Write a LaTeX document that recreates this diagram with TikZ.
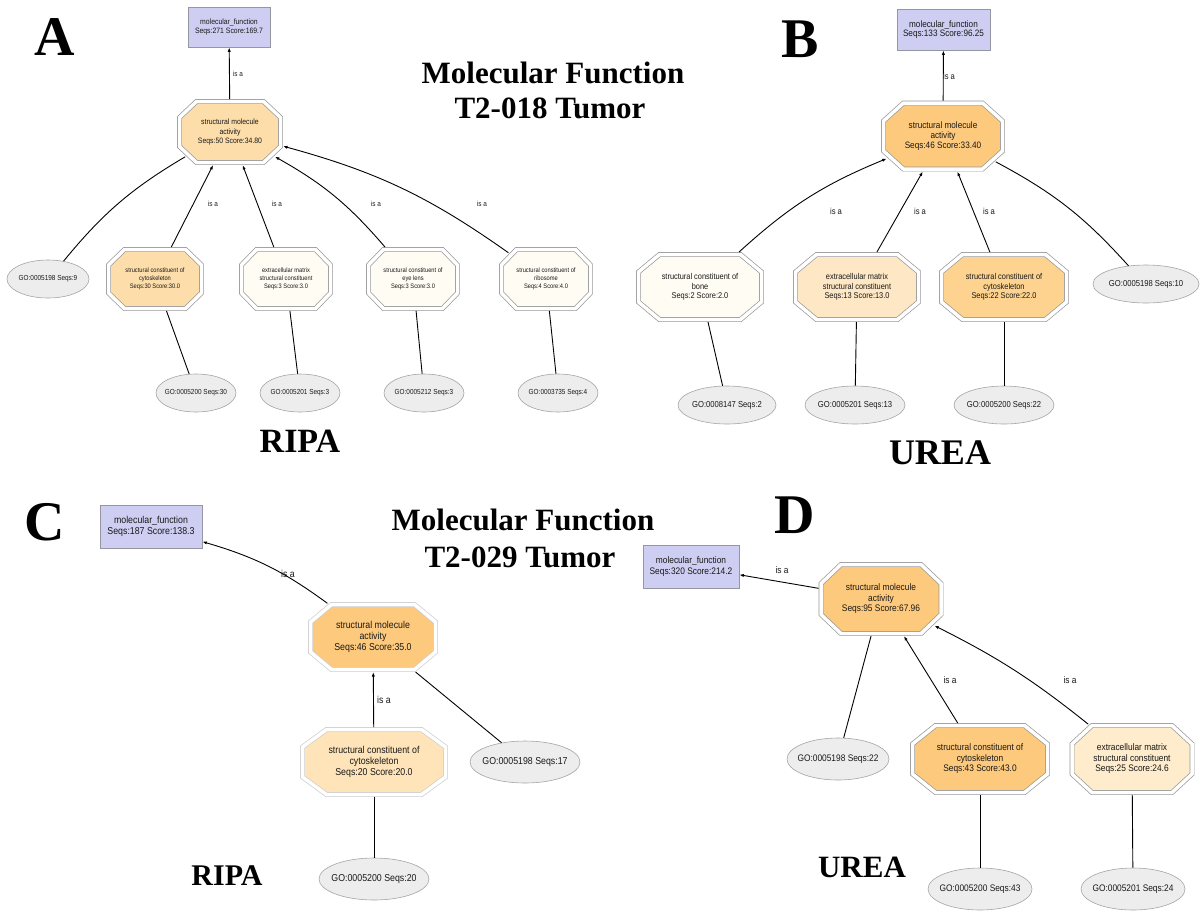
\documentclass[tikz,border=0pt]{standalone}
\usepackage{fontspec}
\setmainfont{Liberation Serif}
\newfontfamily\sansf[FakeStretch=0.88]{Liberation Sans}
\usetikzlibrary{shapes.geometric,arrows.meta}
\definecolor{boxfill}{RGB}{206,206,242}
\definecolor{boxline}{RGB}{150,150,160}
\definecolor{ellfill}{RGB}{237,237,237}
\definecolor{ellline}{RGB}{165,165,165}
\definecolor{octline}{RGB}{150,150,150}
\definecolor{octlineC}{RGB}{205,205,205}
\definecolor{oDeep}{RGB}{253,201,125}
\definecolor{oA}{RGB}{253,222,170}
\definecolor{oPale}{RGB}{254,252,243}
\definecolor{oBext}{RGB}{254,231,196}
\definecolor{oBcyto}{RGB}{253,211,143}
\definecolor{oCcyto}{RGB}{254,228,184}
\definecolor{oDext}{RGB}{254,236,204}
\definecolor{txt}{RGB}{25,25,25}
\makeatletter
\pgfkeys{/pgf/octo cx/.initial=10pt, /pgf/octo cy/.initial=10pt}
\pgfdeclareshape{octo}{%
  \inheritsavedanchors[from=rectangle]%
  \inheritanchor[from=rectangle]{center}%
  \inheritanchor[from=rectangle]{north}%
  \inheritanchor[from=rectangle]{south}%
  \inheritanchor[from=rectangle]{east}%
  \inheritanchor[from=rectangle]{west}%
  \saveddimen\octcx{\pgfmathsetlength\pgf@x{\pgfkeysvalueof{/pgf/octo cx}}}%
  \saveddimen\octcy{\pgfmathsetlength\pgf@x{\pgfkeysvalueof{/pgf/octo cy}}}%
  \backgroundpath{%
    \pgfmathsetlength\pgf@xb{\pgfkeysvalueof{/pgf/outer xsep}}%
    \pgfmathsetlength\pgf@yb{\pgfkeysvalueof{/pgf/outer ysep}}%
    \edef\oct@ox{\the\pgf@xb}\edef\oct@oy{\the\pgf@yb}%
    \southwest
    \pgf@xa=\pgf@x \advance\pgf@xa by \oct@ox\relax
    \pgf@ya=\pgf@y \advance\pgf@ya by \oct@oy\relax
    \edef\oct@l{\the\pgf@xa}\edef\oct@b{\the\pgf@ya}%
    \northeast
    \pgf@xa=\pgf@x \advance\pgf@xa by -\oct@ox\relax
    \pgf@ya=\pgf@y \advance\pgf@ya by -\oct@oy\relax
    \edef\oct@r{\the\pgf@xa}\edef\oct@t{\the\pgf@ya}%
    \pgf@xc=\oct@l\relax \advance\pgf@xc by \octcx\relax \edef\oct@lc{\the\pgf@xc}%
    \pgf@xc=\oct@r\relax \advance\pgf@xc by -\octcx\relax \edef\oct@rc{\the\pgf@xc}%
    \pgf@yc=\oct@b\relax \advance\pgf@yc by \octcy\relax \edef\oct@bc{\the\pgf@yc}%
    \pgf@yc=\oct@t\relax \advance\pgf@yc by -\octcy\relax \edef\oct@tc{\the\pgf@yc}%
    \pgfpathmoveto{\pgfqpoint{\oct@lc}{\oct@b}}%
    \pgfpathlineto{\pgfqpoint{\oct@rc}{\oct@b}}%
    \pgfpathlineto{\pgfqpoint{\oct@r}{\oct@bc}}%
    \pgfpathlineto{\pgfqpoint{\oct@r}{\oct@tc}}%
    \pgfpathlineto{\pgfqpoint{\oct@rc}{\oct@t}}%
    \pgfpathlineto{\pgfqpoint{\oct@lc}{\oct@t}}%
    \pgfpathlineto{\pgfqpoint{\oct@l}{\oct@tc}}%
    \pgfpathlineto{\pgfqpoint{\oct@l}{\oct@bc}}%
    \pgfpathclose
  }%
  \anchorborder{%
    \edef\oct@dx{\the\pgf@x}\edef\oct@dy{\the\pgf@y}%
    \southwest \edef\oct@swx{\the\pgf@x}\edef\oct@swy{\the\pgf@y}%
    \northeast \edef\oct@nex{\the\pgf@x}\edef\oct@ney{\the\pgf@y}%
    \pgfmathsetmacro\oct@a{(\oct@nex-\oct@swx)/2}%
    \pgfmathsetmacro\oct@bb{(\oct@ney-\oct@swy)/2}%
    \pgfmathsetmacro\oct@mx{(\oct@nex+\oct@swx)/2}%
    \pgfmathsetmacro\oct@my{(\oct@ney+\oct@swy)/2}%
    \pgfmathsetmacro\oct@ux{max(abs(\oct@dx),0.01)}%
    \pgfmathsetmacro\oct@uy{max(abs(\oct@dy),0.01)}%
    \pgfmathsetmacro\oct@ccx{max(\octcx,0.5)}%
    \pgfmathsetmacro\oct@ccy{max(\octcy,0.5)}%
    \pgfmathsetmacro\oct@tA{min(\oct@a/\oct@ux,\oct@bb/\oct@uy)}%
    \pgfmathsetmacro\oct@tB{(\oct@a/\oct@ccx+\oct@bb/\oct@ccy-1)/(\oct@ux/\oct@ccx+\oct@uy/\oct@ccy)}%
    \pgfmathsetmacro\oct@t{min(\oct@tA,\oct@tB)}%
    \pgfmathsetmacro\oct@px{\oct@mx+\oct@t*\oct@dx}%
    \pgfmathsetmacro\oct@py{\oct@my+\oct@t*\oct@dy}%
    \pgf@x=\oct@px pt\relax
    \pgf@y=\oct@py pt\relax
  }%
}
\makeatother
\begin{document}
\begin{tikzpicture}[x=1pt,y=1pt,
  gobox/.style={rectangle, draw=boxline, fill=boxfill, line width=0.6pt, inner sep=0pt, align=center, text=txt},
  oct/.style n args={4}{shape=octo, /pgf/octo cx=#3pt, /pgf/octo cy=#4pt,
     minimum width=#1pt, minimum height=#2pt, inner sep=0pt, draw=octline, double=white,
     double distance=3.5pt, line width=0.7pt, outer sep=2.5pt, align=center, text=txt},
  goell/.style n args={2}{ellipse, draw=ellline, fill=ellfill, line width=0.6pt, inner sep=0pt,
     minimum width=#1pt, minimum height=#2pt, text=txt},
  isa/.style={-{Latex[length=4.5pt,width=3.2pt]}, line width=0.9pt, draw=black},
  plainedge/.style={line width=0.9pt, draw=black},
  lbl/.style={inner sep=0pt, text=txt},
  fAb/.style={font=\sansf\fontsize{7.8}{9}\selectfont},
  fA/.style={font=\sansf\fontsize{7.8}{9.6}\selectfont},
  fAs/.style={font=\sansf\fontsize{6.5}{7.9}\selectfont},
  fAe/.style={font=\sansf\fontsize{7.3}{8}\selectfont},
  fB/.style={font=\sansf\fontsize{9.3}{9.8}\selectfont},
  fBs/.style={font=\sansf\fontsize{8.4}{9.6}\selectfont},
  fBe/.style={font=\sansf\fontsize{8.7}{9.5}\selectfont},
  fC/.style={font=\sansf\fontsize{10}{10.6}\selectfont},
  fD/.style={font=\sansf\fontsize{9.5}{10.5}\selectfont},
  letter/.style={font=\bfseries\fontsize{56}{60}\selectfont, anchor=base, inner sep=0pt},
  title/.style={font=\bfseries\fontsize{31}{36}\selectfont, anchor=base, inner sep=0pt},
  method/.style={font=\bfseries\fontsize{#1}{#1}\selectfont, anchor=base, inner sep=0pt}
]
\fill[white] (0,0) rectangle (1200,-914);
\useasboundingbox (0,0) rectangle (1200,-914);

% ================= Panel A =================
\node[letter] (letA) at (55,-55) {A};
\node[title] (titA1) at (553,-83) {Molecular Function};
\node[title] (titA2) at (550,-118) {T2-018 Tumor};
\node[method=34] (ripaA) at (300,-452) {RIPA};

\node[gobox, fAb, minimum width=82pt, minimum height=40pt] (mfA) at (229,-27) {molecular\_function\\Seqs:271 Score:169.7};
\node[oct={101}{61}{17}{16}, fill=oA, fA] (smaA) at (230,-132) {structural molecule\\activity\\Seqs:50 Score:34.80};
\node[goell={82}{38}, fAe] (e9A) at (48,-279) {\makebox[0pt]{GO:0005198 Seqs:9}};
\node[oct={93}{59}{16}{15.5}, fill=oA, fAs] (cytoA) at (155,-279) {structural constituent of\\cytoskeleton\\Seqs:30 Score:30.0};
\node[oct={89}{59}{15}{15.5}, fill=oPale, fAs] (extA) at (286,-279) {extracellular matrix\\structural constituent\\Seqs:3 Score:3.0};
\node[oct={89}{59}{15}{15.5}, fill=oPale, fAs] (eyeA) at (413,-279) {structural constituent of\\eye lens\\Seqs:3 Score:3.0};
\node[oct={89}{59}{15}{15.5}, fill=oPale, fAs] (riboA) at (546,-279) {structural constituent of\\ribosome\\Seqs:4 Score:4.0};
\node[goell={80}{38}, fAe] (e5200A) at (196,-393) {\makebox[0pt]{GO:0005200 Seqs:30}};
\node[goell={80}{38}, fAe] (e5201A) at (300,-393) {\makebox[0pt]{GO:0005201 Seqs:3}};
\node[goell={80}{38}, fAe] (e5212A) at (424,-393) {\makebox[0pt]{GO:0005212 Seqs:3}};
\node[goell={80}{38}, fAe] (e3735A) at (558,-393) {\makebox[0pt]{GO:0003735 Seqs:4}};

\draw[isa] (smaA) -- (mfA);
\draw[plainedge] (e9A) to[bend left=10] (smaA);
\draw[isa] (cytoA) -- (smaA);
\draw[isa] (extA) -- (smaA);
\draw[isa] (eyeA) to[bend right=10] (smaA);
\draw[isa] (riboA) to[bend right=10] (smaA);
\draw[plainedge] (cytoA) -- (e5200A);
\draw[plainedge] (extA) -- (e5201A);
\draw[plainedge] (eyeA) -- (e5212A);
\draw[plainedge] (riboA) -- (e3735A);
\node[lbl, fAe] (lA0) at (238,-74) {is a};
\node[lbl, fAe] (lA1) at (213,-204) {is a};
\node[lbl, fAe] (lA2) at (277,-204) {is a};
\node[lbl, fAe] (lA3) at (376,-204) {is a};
\node[lbl, fAe] (lA4) at (482,-204) {is a};

% ================= Panel B =================
\node[letter] (letB) at (800,-57) {B};
\node[method=36] (ureaB) at (940,-464) {UREA};

\node[gobox, fB, minimum width=93pt, minimum height=41pt] (mfB) at (943.5,-29.5) {molecular\_function\\Seqs:133 Score:96.25};
\node[oct={119}{66}{20}{18}, fill=oDeep, fB] (smaB) at (943,-136) {structural molecule\\activity\\Seqs:46 Score:33.40};
\node[oct={123}{65}{21}{17.5}, fill=oPale, fBs] (boneB) at (700,-287) {structural constituent of\\bone\\Seqs:2 Score:2.0};
\node[oct={123}{65}{21}{17.5}, fill=oBext, fBs] (extB) at (857,-287) {extracellular matrix\\structural constituent\\Seqs:13 Score:13.0};
\node[oct={125}{65}{21}{17.5}, fill=oBcyto, fBs] (cytoB) at (1004,-287) {structural constituent of\\cytoskeleton\\Seqs:22 Score:22.0};
\node[goell={106}{38}, fBe] (e10B) at (1146,-284) {\makebox[0pt]{GO:0005198 Seqs:10}};
\node[goell={98}{38}, fBe] (e8147B) at (727,-405) {\makebox[0pt]{GO:0008147 Seqs:2}};
\node[goell={100}{38}, fBe] (e5201B) at (855,-405) {\makebox[0pt]{GO:0005201 Seqs:13}};
\node[goell={100}{38}, fBe] (e5200B) at (1004,-405) {\makebox[0pt]{GO:0005200 Seqs:22}};

\draw[isa] (smaB) -- (mfB);
\draw[isa] (boneB) to[bend left=10] (smaB);
\draw[isa] (extB) -- (smaB);
\draw[isa] (cytoB) -- (smaB);
\draw[plainedge] (e10B) to[bend right=10] (smaB);
\draw[plainedge] (boneB) -- (e8147B);
\draw[plainedge] (extB) -- (e5201B);
\draw[plainedge] (cytoB) -- (e5200B);
\node[lbl, fBe] (lB0) at (949,-76) {is a};
\node[lbl, fBe] (lB1) at (836,-211) {is a};
\node[lbl, fBe] (lB2) at (920,-211) {is a};
\node[lbl, fBe] (lB3) at (989,-211) {is a};

% ================= Panel C =================
\node[letter] (letC) at (45,-540) {C};
\node[title] (titC1) at (523,-530) {Molecular Function};
\node[title] (titC2) at (520,-567) {T2-029 Tumor};
\node[method=30] (ripaC) at (227,-885) {RIPA};

\node[gobox, fC, minimum width=102pt, minimum height=43pt] (mfC) at (151,-526.5) {molecular\_function\\Seqs:187 Score:138.3};
\node[oct={125}{65}{21}{17.5}, fill=oDeep, fC, draw=octlineC] (smaC) at (373,-637) {structural molecule\\activity\\Seqs:46 Score:35.0};
\node[oct={143}{65}{24}{17.5}, fill=oCcyto, fC, draw=octlineC] (cytoC) at (374,-762) {structural constituent of\\cytoskeleton\\Seqs:20 Score:20.0};
\node[goell={110}{42}, fC] (e5198C) at (525,-762) {\makebox[0pt]{GO:0005198 Seqs:17}};
\node[goell={110}{42}, fC] (e5200C) at (374,-879) {\makebox[0pt]{GO:0005200 Seqs:20}};

\draw[isa] (smaC) to[bend right=10] (mfC);
\draw[isa] (cytoC) -- (smaC);
\draw[plainedge] (e5198C) -- (smaC);
\draw[plainedge] (cytoC) -- (e5200C);
\node[lbl, fC] (lC0) at (288,-574) {is a};
\node[lbl, fC] (lC1) at (384,-700) {is a};

% ================= Panel D =================
\node[letter] (letD) at (795,-533) {D};
\node[method=31] (ureaD) at (862,-877) {UREA};

\node[gobox, fD, minimum width=96pt, minimum height=43pt] (mfD) at (691,-566.5) {molecular\_function\\Seqs:320 Score:214.2};
\node[oct={120}{69}{20}{19}, fill=oDeep, fD] (smaD) at (881,-599) {structural molecule\\activity\\Seqs:95 Score:67.96};
\node[goell={102}{42}, fD] (e5198D) at (838,-759) {\makebox[0pt]{GO:0005198 Seqs:22}};
\node[oct={135}{67}{23}{18.5}, fill=oDeep, fD] (cytoD) at (980,-759) {structural constituent of\\cytoskeleton\\Seqs:43 Score:43.0};
\node[oct={120}{67}{20}{18.5}, fill=oDext, fD] (extD) at (1132,-759) {extracellular matrix\\structural constituent\\Seqs:25 Score:24.6};
\node[goell={104}{42}, fD] (e5200D) at (980,-889) {\makebox[0pt]{GO:0005200 Seqs:43}};
\node[goell={104}{42}, fD] (e5201D) at (1133,-889) {\makebox[0pt]{GO:0005201 Seqs:24}};

\draw[isa] (smaD) -- (mfD);
\draw[plainedge] (e5198D) -- (smaD);
\draw[isa] (cytoD) -- (smaD);
\draw[isa] (extD) to[bend right=6] (smaD);
\draw[plainedge] (cytoD) -- (e5200D);
\draw[plainedge] (extD) -- (e5201D);
\node[lbl, fD] (lD0) at (782,-570) {is a};
\node[lbl, fD] (lD1) at (950,-680) {is a};
\node[lbl, fD] (lD2) at (1070,-680) {is a};
\end{tikzpicture}
\end{document}
